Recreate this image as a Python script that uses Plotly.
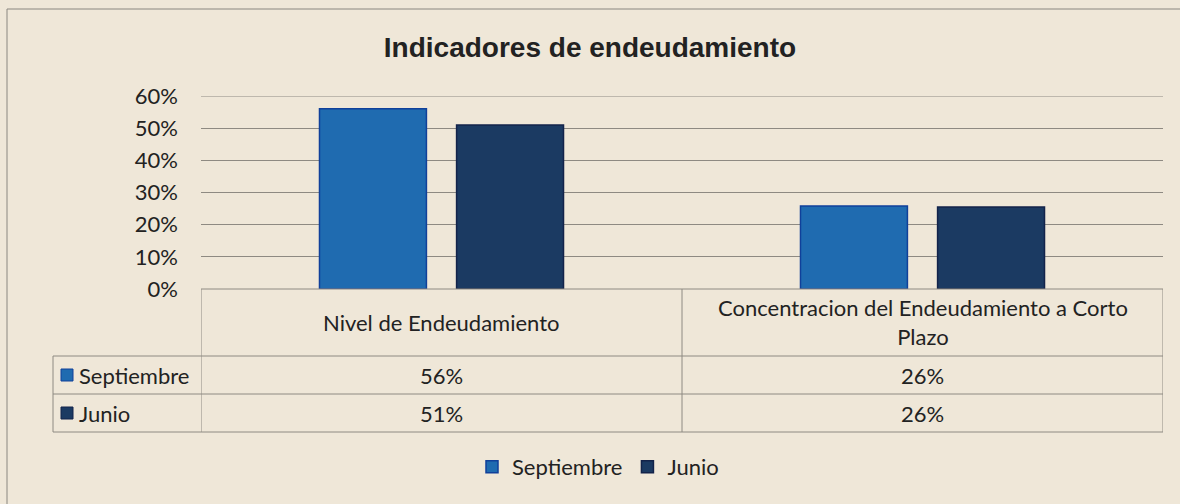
import plotly.graph_objects as go

# Data
categories = ["Nivel de Endeudamiento", "Concentracion del Endeudamiento a Corto Plazo"]
header_labels = ["Nivel de Endeudamiento", "Concentracion del Endeudamiento a Corto<br>Plazo"]
series_names = ["Septiembre", "Junio"]
septiembre = [0.56, 0.258]
junio = [0.51, 0.255]
y_ticks = [0, 0.1, 0.2, 0.3, 0.4, 0.5, 0.6]

colors = ["#1f6bb0", "#1b3a62"]
edge_colors = ["#10409a", "#13234a"]
bg = "#efe7d8"
grid = "#8e8a82"
txt = "#222222"
body_font = "Lato"

W, H = 1180, 504
L, R, T, B = 201, 17, 96, 215
plot_w = W - L - R
plot_h = H - T - B


def py(p):
    # page pixel row -> paper y
    return (H - B - p) / plot_h


def px(p):
    # page pixel column -> paper x
    return (p - L) / plot_w


fig = go.Figure()
for name, vals, c, ec in zip(series_names, [septiembre, junio], colors, edge_colors):
    fig.add_trace(go.Bar(
        x=list(range(len(categories))),
        y=vals,
        name=name,
        marker=dict(color=c, line=dict(color=ec, width=1.5)),
        hoverinfo="skip",
    ))

shapes = []
annotations = []
line_style = dict(color=grid, width=1)

# top gridline (plotly skips it at the range edge)
shapes.append(dict(type="line", xref="paper", yref="y", x0=0, x1=1,
                   y0=y_ticks[-1], y1=y_ticks[-1], line=line_style, layer="below"))

# table rows (page pixels)
row_top, row1, row2, row3 = 289, 356, 394, 432

# vertical lines of category columns
for i in range(len(categories) + 1):
    shapes.append(dict(type="line", xref="x", yref="paper",
                       x0=i - 0.5, x1=i - 0.5, y0=py(row_top), y1=py(row3),
                       line=line_style))
# horizontal lines
shapes.append(dict(type="line", xref="paper", yref="paper", x0=0, x1=1,
                   y0=py(row_top), y1=py(row_top), line=line_style))
for r in [row1, row2, row3]:
    shapes.append(dict(type="line", xref="paper", yref="paper", x0=px(53), x1=1,
                       y0=py(r), y1=py(r), line=line_style))
# left border of row label column
shapes.append(dict(type="line", xref="paper", yref="paper", x0=px(53), x1=px(53),
                   y0=py(row1), y1=py(row3), line=line_style))

# outer chart frame (top and left edges are visible)
frame = dict(color="#8a8780", width=1)
shapes.append(dict(type="line", xref="paper", yref="paper",
                   x0=px(7), x1=px(W), y0=py(9), y1=py(9), line=frame))
shapes.append(dict(type="line", xref="paper", yref="paper",
                   x0=px(7), x1=px(7), y0=py(9), y1=py(H), line=frame))

# header labels
for i, lab in enumerate(header_labels):
    annotations.append(dict(x=i, y=py(322), xref="x", yref="paper", text=lab,
                            showarrow=False, font=dict(family=body_font, size=22, color=txt),
                            xanchor="center", yanchor="middle"))

# value rows with color keys
for k, (name, vals) in enumerate(zip(series_names, [septiembre, junio])):
    top = [row1, row2][k]
    bot = [row2, row3][k]
    mid = (top + bot) / 2
    shapes.append(dict(type="rect", xref="paper", yref="paper",
                       x0=px(61), x1=px(73), y0=py(mid - 6), y1=py(mid + 6),
                       fillcolor=colors[k], line=dict(color=edge_colors[k], width=1)))
    annotations.append(dict(x=px(77), y=py(mid), xref="paper", yref="paper", text=name,
                            showarrow=False, font=dict(family=body_font, size=22, color=txt),
                            xanchor="left", yanchor="middle"))
    for i, v in enumerate(vals):
        annotations.append(dict(x=i, y=py(mid), xref="x", yref="paper", text=f"{v:.0%}",
                                showarrow=False, font=dict(family=body_font, size=22, color=txt),
                                xanchor="center", yanchor="middle"))

fig.update_layout(
    width=W, height=H,
    margin=dict(l=L, r=R, t=T, b=B),
    paper_bgcolor=bg, plot_bgcolor=bg,
    title=dict(text="<b>Indicadores de endeudamiento</b>", x=590 / W, xanchor="center",
               y=1 - 47 / H, yanchor="middle",
               font=dict(family="Liberation Sans", size=28, color=txt)),
    barmode="group", bargap=0.43, bargroupgap=0.22,
    xaxis=dict(range=[-0.5, len(categories) - 0.5], showticklabels=False,
               showgrid=False, zeroline=False, showline=False, ticks=""),
    yaxis=dict(range=[0, 0.6], tickvals=y_ticks, tickformat=".0%",
               showgrid=True, gridcolor=grid, gridwidth=1, zeroline=False,
               showline=False, ticks="", ticklabelstandoff=22,
               tickfont=dict(family=body_font, size=22, color=txt)),
    legend=dict(orientation="h", x=px(598), xanchor="center", y=py(467), yanchor="middle",
                font=dict(family=body_font, size=22, color=txt),
                bgcolor="rgba(0,0,0,0)", itemwidth=30, tracegroupgap=0),
    shapes=shapes,
    annotations=annotations,
    showlegend=True,
)

fig.write_html("out.html", config={"displayModeBar": False},
               post_script="document.body.style.margin='0px';")
